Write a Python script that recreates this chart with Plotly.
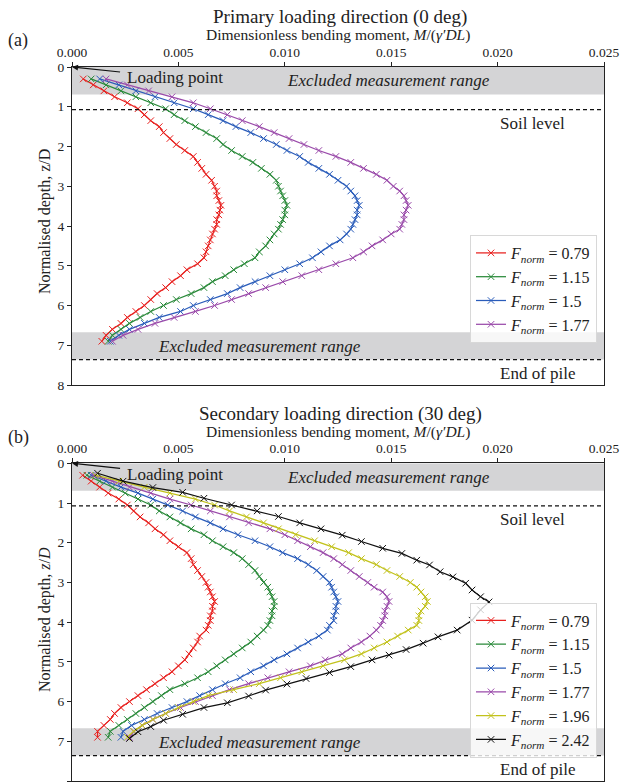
import plotly.graph_objects as go

# ---------------- DATA ----------------
depth = [0.3, 0.45, 0.6, 0.75, 0.9, 1.05, 1.2, 1.35, 1.5, 1.65, 1.8, 1.95, 2.1, 2.25, 2.4,
         2.55, 2.7, 2.85, 3.0, 3.12, 3.24, 3.36, 3.48, 3.6, 3.72, 3.84, 3.96, 4.08, 4.2,
         4.35, 4.5, 4.65, 4.8, 4.95, 5.1, 5.25, 5.4, 5.55, 5.7, 5.85, 6.0, 6.15, 6.3,
         6.45, 6.6, 6.75, 6.9]

# Primary loading direction (0 deg)
a_079 = [0.00053, 0.0010, 0.0015, 0.0020, 0.0026, 0.0031, 0.0034, 0.0037, 0.0041, 0.0043,
         0.0046, 0.0049, 0.0053, 0.0057, 0.0059, 0.0061, 0.0063, 0.00656, 0.0067, 0.0068,
         0.0068, 0.0069, 0.0070, 0.00695, 0.0069, 0.0068, 0.0068, 0.0067, 0.0066, 0.0065,
         0.0064, 0.0063, 0.0062, 0.0059, 0.0054, 0.0051, 0.0047, 0.0044, 0.0040, 0.0037,
         0.0034, 0.0030, 0.0026, 0.0023, 0.0019, 0.0016, 0.0014]
a_115 = [0.0009, 0.0016, 0.0023, 0.0030, 0.0037, 0.0044, 0.0048, 0.0053, 0.0058, 0.0063,
         0.0068, 0.0071, 0.0075, 0.0080, 0.0085, 0.0089, 0.0093, 0.0096, 0.0097, 0.0098,
         0.0099, 0.0100, 0.0101, 0.0100, 0.0100, 0.0099, 0.0098, 0.0097, 0.0095, 0.0093,
         0.0091, 0.0088, 0.0086, 0.0081, 0.0076, 0.0072, 0.0066, 0.0062, 0.0056, 0.0049,
         0.0043, 0.0037, 0.0032, 0.0027, 0.0023, 0.0019, 0.0017]
a_150 = [0.0013, 0.0022, 0.0030, 0.0039, 0.0048, 0.0057, 0.0064, 0.0071, 0.0077, 0.0084,
         0.0090, 0.0096, 0.0101, 0.0107, 0.0111, 0.0116, 0.0121, 0.0125, 0.0129, 0.0131,
         0.0133, 0.0134, 0.0135, 0.0134, 0.0134, 0.0133, 0.0132, 0.0131, 0.0129, 0.0126,
         0.0121, 0.0117, 0.0113, 0.0107, 0.0100, 0.0093, 0.0086, 0.0079, 0.0073, 0.0065,
         0.0057, 0.0051, 0.0041, 0.0034, 0.0027, 0.0022, 0.0018]
a_177 = [0.0016, 0.0026, 0.0036, 0.0047, 0.0057, 0.0065, 0.0073, 0.0080, 0.0088, 0.0095,
         0.0102, 0.0109, 0.0116, 0.0124, 0.0131, 0.0137, 0.0143, 0.0148, 0.0151, 0.0154,
         0.0156, 0.0157, 0.0158, 0.0157, 0.0156, 0.0156, 0.0155, 0.0154, 0.0150, 0.0146,
         0.0141, 0.0137, 0.0132, 0.0124, 0.0116, 0.0108, 0.0099, 0.0091, 0.0083, 0.0075,
         0.0067, 0.0058, 0.0048, 0.0039, 0.0031, 0.0024, 0.0019]

# Secondary loading direction (30 deg)
b_079 = [0.0005, 0.0009, 0.0013, 0.0017, 0.0022, 0.0026, 0.0029, 0.0032, 0.0036, 0.0039,
         0.0043, 0.0046, 0.0050, 0.0054, 0.0056, 0.0057, 0.0059, 0.0061, 0.0063, 0.0064,
         0.0065, 0.0066, 0.0067, 0.0066, 0.0066, 0.0065, 0.0065, 0.0064, 0.0063, 0.0060,
         0.0059, 0.0057, 0.0055, 0.0053, 0.0050, 0.0047, 0.0043, 0.0039, 0.0035, 0.0031,
         0.0027, 0.0023, 0.0020, 0.0018, 0.0015, 0.0012, 0.0012]
b_115 = [0.0007, 0.0013, 0.0019, 0.0025, 0.0031, 0.0037, 0.0041, 0.0046, 0.0051, 0.0056,
         0.0062, 0.0066, 0.0071, 0.0076, 0.0080, 0.0083, 0.0086, 0.0088, 0.0090, 0.0092,
         0.0093, 0.0094, 0.0095, 0.0095, 0.0094, 0.0094, 0.0093, 0.0092, 0.0090, 0.0087,
         0.0084, 0.0080, 0.0076, 0.0072, 0.0068, 0.0064, 0.0059, 0.0053, 0.0046, 0.0042,
         0.0038, 0.0034, 0.0030, 0.0026, 0.0022, 0.0018, 0.0017]
b_150 = [0.0009, 0.0016, 0.0023, 0.0031, 0.0038, 0.0045, 0.0052, 0.0058, 0.0065, 0.0071,
         0.0078, 0.0086, 0.0093, 0.0099, 0.0106, 0.0111, 0.0115, 0.0118, 0.0121, 0.0122,
         0.0123, 0.0124, 0.0125, 0.0124, 0.0124, 0.0123, 0.0123, 0.0121, 0.0120, 0.0116,
         0.0111, 0.0106, 0.0101, 0.0095, 0.0090, 0.0084, 0.0079, 0.0072, 0.0066, 0.0060,
         0.0054, 0.0047, 0.0040, 0.0034, 0.0028, 0.0024, 0.0023]
b_177 = [0.0010, 0.0019, 0.0027, 0.0037, 0.0046, 0.0056, 0.0065, 0.0074, 0.0083, 0.0093,
         0.0100, 0.0106, 0.0112, 0.0118, 0.0123, 0.0127, 0.0131, 0.0135, 0.0139, 0.0142,
         0.0146, 0.0148, 0.0149, 0.0148, 0.0147, 0.0147, 0.0146, 0.0145, 0.0143, 0.0140,
         0.0136, 0.0131, 0.0127, 0.0119, 0.0112, 0.0102, 0.0092, 0.0083, 0.0074, 0.0066,
         0.0058, 0.0051, 0.0044, 0.0038, 0.0033, 0.0029, 0.0027]
b_196 = [0.0011, 0.0022, 0.0034, 0.0046, 0.0058, 0.0067, 0.0074, 0.0082, 0.0090, 0.0097,
         0.0105, 0.0114, 0.0122, 0.0130, 0.0136, 0.0143, 0.0148, 0.0154, 0.0159, 0.0162,
         0.0164, 0.0166, 0.0167, 0.0166, 0.0164, 0.0163, 0.0163, 0.0162, 0.0158, 0.0153,
         0.0148, 0.0142, 0.0136, 0.0128, 0.0118, 0.0108, 0.0098, 0.0088, 0.0076, 0.0064,
         0.0057, 0.0050, 0.0044, 0.0038, 0.0033, 0.0029, 0.0026]
depth_242 = [0.25, 0.45, 0.61, 0.73, 0.88, 1.05, 1.2, 1.34, 1.5, 1.65, 1.81, 1.97, 2.14,
             2.27, 2.44, 2.56, 2.73, 2.86, 3.02, 3.19, 3.36, 3.49, 3.69, 3.95, 4.2, 4.37,
             4.53, 4.69, 4.83, 4.95, 5.12, 5.27, 5.42, 5.56, 5.71, 5.86, 6.03, 6.15, 6.32,
             6.47, 6.63, 6.76, 6.93]
b_242 = [0.0012, 0.0024, 0.0038, 0.0052, 0.0062, 0.0075, 0.0087, 0.0097, 0.0107, 0.0117,
         0.0127, 0.0136, 0.0146, 0.0155, 0.0162, 0.0168, 0.0173, 0.0179, 0.0185, 0.0188,
         0.0192, 0.0196, 0.0192, 0.0188, 0.0181, 0.0172, 0.0165, 0.0157, 0.0149, 0.0141,
         0.0131, 0.0121, 0.0110, 0.0101, 0.0091, 0.0083, 0.0073, 0.0062, 0.0052, 0.0043,
         0.0037, 0.0031, 0.0027]

f_labels = ["0.79", "1.15", "1.5", "1.77", "1.96", "2.42"]
colors = ["#e8201e", "#2a8a3a", "#2a5cba", "#9a4aaa", "#c2c21c", "#111111"]

soil_level = 1.07
pile_end = 7.36
excl_top = [0.0, 0.69]
excl_bot = [6.67, 7.36]

# ---------------- FIGURE ----------------
W, H = 622, 784
X0, X1 = 72, 604          # plot area left/right in window pixels
Y0, Y1 = 67, 782          # plot area top/bottom in window pixels
ML, MT = X0, Y0
MR, MB = W - X1, H - Y1
PW, PH = X1 - X0, Y1 - Y0
FONT = "Liberation Serif"
fig = go.Figure()

series_a = [a_079, a_115, a_150, a_177]
series_b = [b_079, b_115, b_150, b_177, b_196]

def add(xs, ys, i, xa, ya, legend):
    fig.add_trace(go.Scatter(
        x=xs, y=ys, mode="lines+markers", xaxis=xa, yaxis=ya, legend=legend,
        name="<i>F<sub>norm</sub></i> = " + f_labels[i],
        line=dict(color=colors[i], width=1.25),
        marker=dict(symbol="x-thin", size=6.5, line=dict(color=colors[i], width=1.0)),
    ))

for i, s in enumerate(series_a):
    add(s, depth, i, "x", "y", "legend")
for i, s in enumerate(series_b):
    add(s, depth, i, "x2", "y2", "legend2")
add(b_242, depth_242, 5, "x2", "y2", "legend2")

def px(xp):
    return (xp - X0) / PW

def py(yp):
    return 1 - (yp - Y0) / PH

yd_top = [py(385), 1.0]
yd_bot = [py(781), py(463.3)]

axis_common = dict(showgrid=False, zeroline=False, showline=True, mirror=True,
                   automargin=False,
                   linecolor="#222", linewidth=1, ticks="outside", ticklen=4,
                   tickcolor="#222", tickfont=dict(family=FONT, size=13.5, color="#222"))

xaxis = dict(axis_common, range=[0, 0.025], dtick=0.005, tick0=0, tickformat=".3f",
             side="top", domain=[0, 1])
yaxis = dict(axis_common, range=[8, 0], dtick=1, tick0=0)

legend_common = dict(x=px(597), xanchor="right", yanchor="middle",
                     bgcolor="rgba(255,255,255,0.8)", bordercolor="#d8d8d8", borderwidth=1,
                     font=dict(family=FONT, size=16, color="#222"))

fig.update_layout(
    width=W, height=H,
    margin=dict(l=ML, r=MR, t=MT, b=MB, autoexpand=False),
    plot_bgcolor="white", paper_bgcolor="white",
    font=dict(family=FONT, color="#222"),
    xaxis=dict(xaxis, anchor="y"),
    yaxis=dict(yaxis, anchor="x", domain=yd_top),
    xaxis2=dict(xaxis, anchor="y2"),
    yaxis2=dict(yaxis, anchor="x2", domain=yd_bot),
    legend=dict(legend_common, y=py(289)),
    legend2=dict(legend_common, y=py(680)),
    showlegend=True,
)

shapes = []
annotations = []
for xr, yr in (("x", "y"), ("x2", "y2")):
    for band in (excl_top, excl_bot):
        shapes.append(dict(type="rect", xref=xr + " domain", yref=yr, x0=0, x1=1,
                           y0=band[0], y1=band[1], fillcolor="#d4d4d6",
                           line=dict(width=0), layer="below"))
    for lv in (soil_level, pile_end):
        shapes.append(dict(type="line", xref=xr + " domain", yref=yr, x0=0, x1=1,
                           y0=lv, y1=lv, line=dict(color="#111", width=1.2, dash="4px,3px")))
    annotations += [
        dict(xref=xr, yref=yr, x=0.0100, y=0.35, text="<i>Excluded measurement range</i>",
             showarrow=False, xanchor="left", yanchor="middle",
             font=dict(size=17, family=FONT, color="#222")),
        dict(xref=xr, yref=yr, x=0.00397, y=7.04, text="<i>Excluded measurement range</i>",
             showarrow=False, xanchor="left", yanchor="middle",
             font=dict(size=17, family=FONT, color="#222")),
        dict(xref=xr, yref=yr, x=0.00250, y=0.27, text="Loading point",
             showarrow=False, xanchor="left", yanchor="middle",
             font=dict(size=17, family=FONT, color="#222")),
        dict(xref=xr, yref=yr, x=0, y=0, ax=0.00233, ay=0.13, axref=xr, ayref=yr,
             text="", showarrow=True, arrowhead=2, arrowsize=1, arrowwidth=1.2,
             arrowcolor="#111"),
        dict(xref=xr, yref=yr, x=0.0200, y=1.42, text="Soil level",
             showarrow=False, xanchor="left", yanchor="middle",
             font=dict(size=17, family=FONT, color="#222")),
        dict(xref=xr, yref=yr, x=0.0200, y=7.72, text="End of pile",
             showarrow=False, xanchor="left", yanchor="middle",
             font=dict(size=17, family=FONT, color="#222")),
    ]

def paper_text(xp, yp, text, size, angle=0):
    return dict(xref="paper", yref="paper", x=px(xp), y=py(yp), text=text,
                showarrow=False, xanchor="center", yanchor="middle", textangle=angle,
                font=dict(size=size, family=FONT, color="#222"))

xlabel = "Dimensionless bending moment, <i>M</i>/(<i>γ′DL</i>)"
annotations += [
    paper_text(340, 17, "Primary loading direction (0 deg)", 19),
    paper_text(338, 35, xlabel, 15.5),
    paper_text(18, 40, "(a)", 18),
    paper_text(45, 222, "Normalised depth, z/D", 16, -90),
    paper_text(340, 414, "Secondary loading direction (30 deg)", 19),
    paper_text(338, 432, xlabel, 15.5),
    paper_text(18, 437, "(b)", 18),
    paper_text(45, 620, "Normalised depth, <i>z</i>/<i>D</i>", 16, -90),
]

fig.update_layout(shapes=shapes, annotations=annotations)
fig.write_html(
    "out.html",
    config={"displayModeBar": False},
    post_script="document.body.style.margin='0';document.body.style.overflow='hidden';",
)
